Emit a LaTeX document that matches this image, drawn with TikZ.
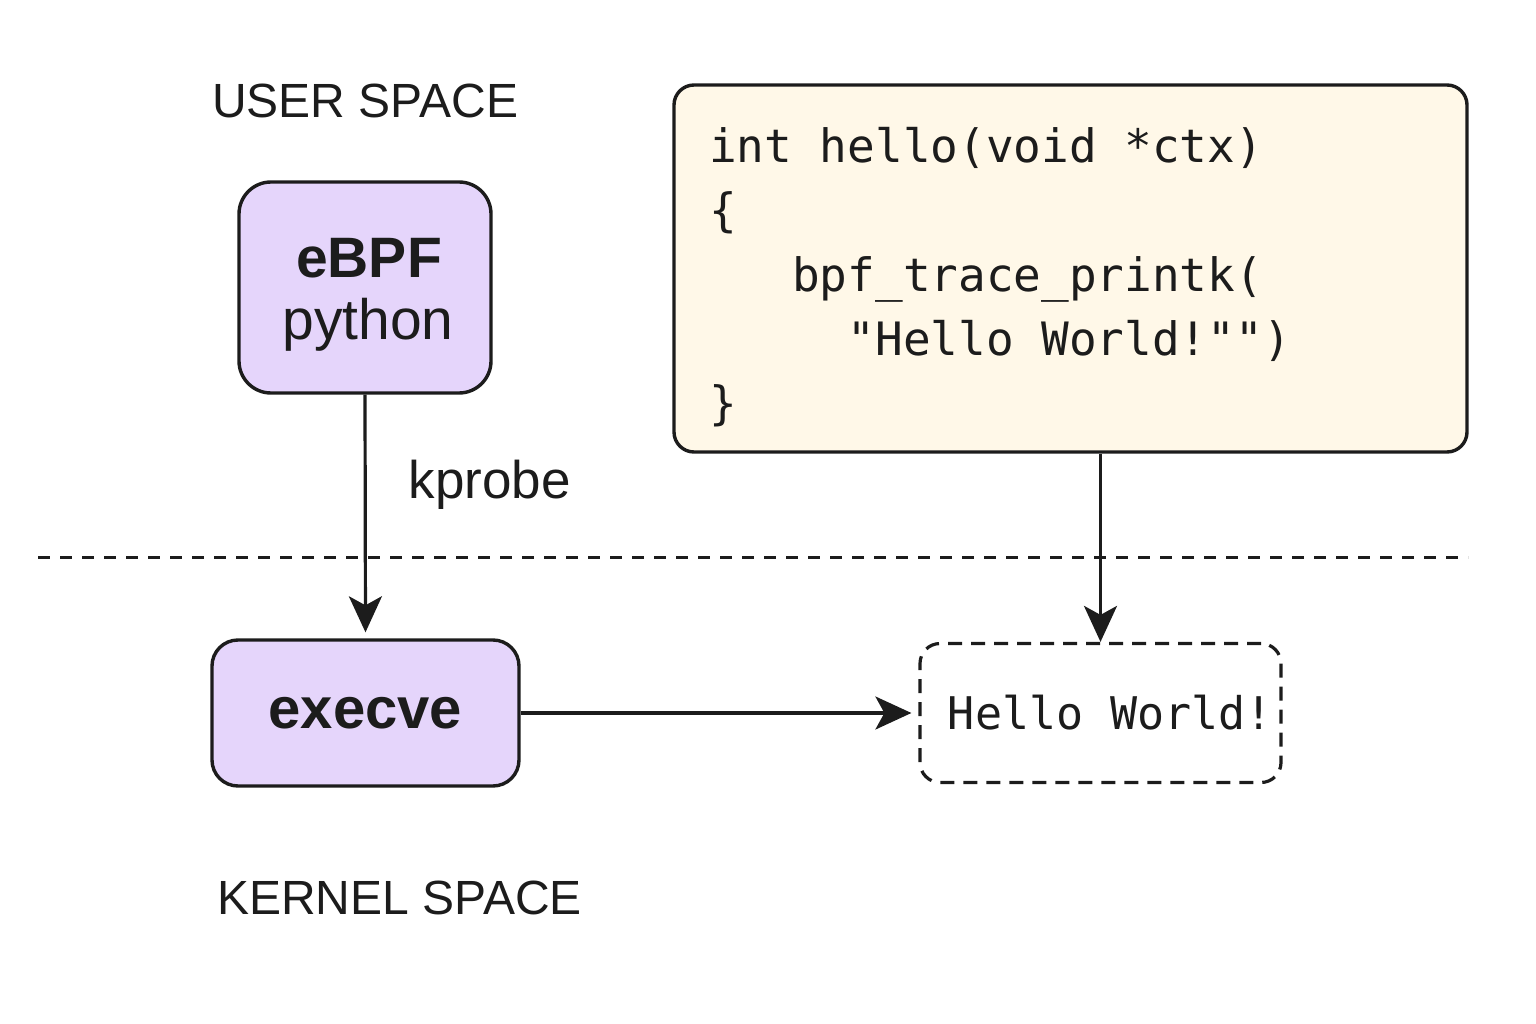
\documentclass[tikz,border=0pt]{standalone}
\usepackage{fontspec}
\setmainfont{Liberation Sans}
\newfontfamily\codefont[Ligatures=TeXOff]{DejaVu Sans Mono}
\usetikzlibrary{arrows.meta}
\definecolor{lav}{HTML}{E5D5FB}
\definecolor{cream}{HTML}{FFF8E8}
\definecolor{ink}{HTML}{1C1C1C}
\tikzset{
  box/.style={draw=ink, line width=3.4pt, rounded corners=32pt, fill=lav, inner sep=0pt},
  arr/.style={draw=ink, line width=3.2pt, -{Stealth[length=36pt,width=33pt,inset=9pt]}},
  lbl/.style={font=\fontsize{48}{56}\selectfont, text=ink, inner sep=0pt, anchor=base west},
  code/.style={font=\codefont\fontsize{46}{64}\selectfont, text=ink, inner sep=0pt, anchor=base west},
}
\begin{document}
\begin{tikzpicture}[x=1pt,y=-1pt]
\useasboundingbox (0,0) rectangle (1536,1024);
% labels
\node[lbl] (us) at (212,118) {USER SPACE};
\node[lbl] (ks) at (217,914) {KERNEL SPACE};
% eBPF box
\node[box, minimum width=252pt, minimum height=211pt] (ebpf) at (365,287.5) {};
\node[font=\bfseries\fontsize{57}{60}\selectfont, text=ink, inner sep=0pt] (ebpfT) at (369,258) {eBPF};
\node[font=\fontsize{57}{60}\selectfont, text=ink, inner sep=0pt] (py) at (368,325) {python};
% execve
\node[box, rounded corners=26pt, minimum width=307pt, minimum height=146pt, font=\bfseries\fontsize{58}{60}\selectfont, text=ink] (exe) at (365.5,713) {execve};
% code box
\node[draw=ink, line width=3.4pt, rounded corners=20pt, fill=cream, minimum width=793pt, minimum height=367pt, inner sep=0pt] (cb) at (1070.5,268.5) {};
\node[code] (c1) at (709,163) {int hello(void *ctx)};
\node[code] (c2) at (709,227) {\{};
\node[code] (c3) at (709,291) {\hphantom{xxx}bpf\_trace\_printk(};
\node[code] (c4) at (709,355) {\hphantom{xxxxx}"Hello World!"")};
\node[code] (c5) at (709,419) {\}};
% hello world box
\node[draw=ink, line width=3.2pt, dash pattern=on 14pt off 9pt, rounded corners=20pt, minimum width=361pt, minimum height=139pt, inner sep=0pt, font=\codefont\fontsize{45}{50}\selectfont, text=ink] (hw) at (1100.5,713) {\hspace*{20pt}Hello World!};
% dashed divider
\coordinate (dl) at (38,557);
\coordinate (dr) at (1468,557);
\draw[draw=ink, line width=3pt, dash pattern=on 12pt off 10pt] (dl) -- (dr);
% arrows
\draw[arr, shorten >=6pt] (ebpf.south) -- (exe.north) node[pos=0.37, right=42pt, font=\fontsize{53}{56}\selectfont, text=ink, inner sep=0pt] (kp) {kprobe};
\draw[arr] (hw.north |- cb.south) -- (hw.north);
\draw[arr, shorten >=7pt] (exe.east) -- (hw.west);
\end{tikzpicture}
\end{document}
